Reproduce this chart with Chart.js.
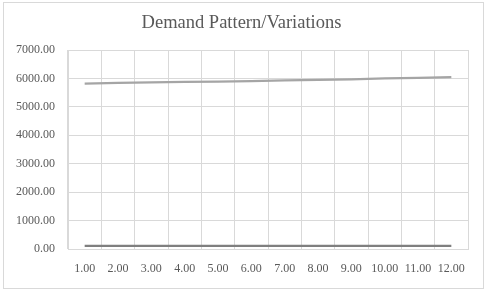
<!DOCTYPE html>
<html><head><meta charset="utf-8">
<script src="https://cdn.jsdelivr.net/npm/chart.js@4/dist/chart.umd.min.js"></script>
<style>html,body{margin:0;padding:0;background:#fff;}#wrap{width:487px;height:294px;position:relative;}</style>
</head><body><div id="wrap"><canvas id="c" width="487" height="294"></canvas></div>
<script>
const categories = ["1.00","2.00","3.00","4.00","5.00","6.00","7.00","8.00","9.00","10.00","11.00","12.00"];
const upperSeries = [5820,5845,5860,5875,5890,5905,5930,5950,5970,6000,6020,6050];
const lowerSeries = [110,110,110,110,110,110,110,110,110,110,110,110];
const yTicks = [0,1000,2000,3000,4000,5000,6000,7000];
const titleText = 'Demand Pattern/Variations';

const framePlugin = {
  id:'frame',
  beforeDraw(chart){
    const ctx = chart.ctx;
    ctx.save();
    ctx.fillStyle='#fff';
    ctx.fillRect(0,0,chart.width,chart.height);
    ctx.strokeStyle='#d9d9d9';
    ctx.lineWidth=1;
    ctx.strokeRect(3.5,2.5,480,286);
    ctx.fillStyle='#595959';
    ctx.font='18.5px "Liberation Serif", "Times New Roman", serif';
    ctx.textAlign='center';
    ctx.textBaseline='middle';
    ctx.fillText(titleText,241.5,23.5);
    ctx.restore();
  }
};

new Chart(document.getElementById('c'), {
  type:'line',
  data:{
    labels:categories,
    datasets:[
      {data:upperSeries,borderColor:'#a5a5a5',borderWidth:2.25,pointRadius:0,tension:0,fill:false},
      {data:lowerSeries,borderColor:'#7f7f7f',borderWidth:2.25,pointRadius:0,tension:0,fill:false}
    ]
  },
  options:{
    responsive:false,animation:false,devicePixelRatio:1,
    layout:{padding:{left:0,right:19,top:50,bottom:0}},
    plugins:{
      legend:{display:false},tooltip:{enabled:false},title:{display:false}
    },
    scales:{
      x:{offset:true,
        grid:{offset:true,color:'#d9d9d9',drawTicks:false},
        border:{color:'#d9d9d9'},
        ticks:{color:'#595959',padding:13,maxRotation:0,autoSkip:false,
          font:{family:'"Liberation Serif", "Times New Roman", serif',size:12}},
        afterFit(s){s.height=45;}
      },
      y:{min:0,max:7000,
        afterBuildTicks(s){s.ticks=yTicks.map(v=>({value:v}));},
        grid:{color:'#d9d9d9',drawTicks:false},
        border:{color:'#d9d9d9'},
        ticks:{color:'#595959',padding:13,
          callback:v=>Number(v).toFixed(2),
          font:{family:'"Liberation Serif", "Times New Roman", serif',size:12}},
        afterFit(s){s.width=68;}
      }
    }
  },
  plugins:[framePlugin]
});
</script></body></html>
